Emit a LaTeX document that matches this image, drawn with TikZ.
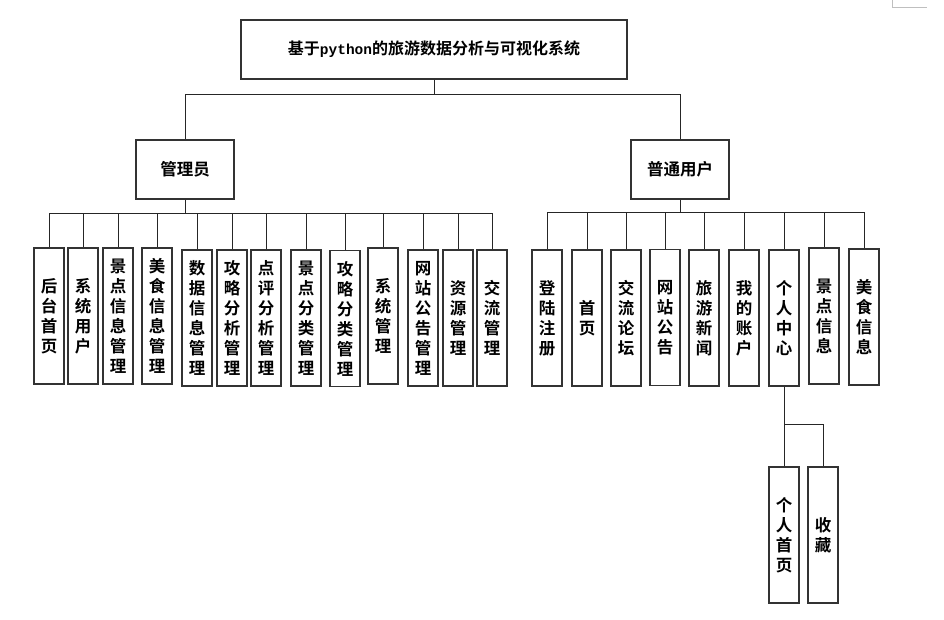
\documentclass[tikz,border=0pt]{standalone}
\usepackage{fontspec}
\usepackage{tikz}
\usetikzlibrary{positioning}
\newfontfamily\cjk{Noto Sans CJK SC Bold}
\newfontfamily\lat{Liberation Mono}
\tikzset{
    topbox/.style={
        draw=black!80,
        line width=1.1pt,
        minimum width=386pt,
        minimum height=59pt,
        inner sep=0pt,
        font=\cjk\fontsize{16}{18}\selectfont
    },
    rolebox/.style={
        draw=black!80,
        line width=1.1pt,
        minimum width=98pt,
        minimum height=59pt,
        inner sep=0pt,
        font=\cjk\fontsize{16.5}{18}\selectfont
    },
    leaf/.style={
        draw=black!80,
        line width=1.1pt,
        minimum width=30pt,
        minimum height=136pt,
        inner sep=0pt,
        align=center,
        font=\cjk\fontsize{16.5}{20}\selectfont
    },
    edge/.style={
        line width=1pt,
        black!85
    }
}
\begin{document}
\begin{tikzpicture}[x=1pt,y=-1pt]

\useasboundingbox (0,0) rectangle (944,619);

%---------------- Top ----------------

\node[topbox] (root) at (434,49.5) {基于{\lat\bfseries\fontsize{14.5}{18}\selectfont python}的旅游数据分析与可视化系统};

\node[rolebox] (admin) at (185,169.5) {管理员};
\node[rolebox] (user) at (680,169.5) {普通用户};

\coordinate (rbus) at (434,94);
\draw[edge] (root.south) -- (rbus);
\draw[edge] (rbus) -| (admin.north) (rbus) -| (user.north);

%---------------- Admin ----------------

\node[leaf] (a1) at (49,316) {后\\台\\首\\页};
\node[leaf] (a2) at (83,316) {系\\统\\用\\户};
\node[leaf] (a3) at (118,316) {景\\点\\信\\息\\管\\理};
\node[leaf] (a4) at (157,316) {美\\食\\信\\息\\管\\理};
\node[leaf] (a5) at (197,318) {数\\据\\信\\息\\管\\理};
\node[leaf] (a6) at (232,318) {攻\\略\\分\\析\\管\\理};
\node[leaf] (a7) at (266,318) {点\\评\\分\\析\\管\\理};
\node[leaf] (a8) at (306,318) {景\\点\\分\\类\\管\\理};
\node[leaf] (a9) at (345,318.5) {攻\\略\\分\\类\\管\\理};
\node[leaf] (a10) at (383,316) {系\\统\\管\\理};
\node[leaf] (a11) at (423,318) {网\\站\\公\\告\\管\\理};
\node[leaf] (a12) at (458,318) {资\\源\\管\\理};
\node[leaf] (a13) at (492,318) {交\\流\\管\\理};

\coordinate (abus) at (185,213);
\draw[edge] (admin.south) -- (abus);
\draw[edge] (abus) -| (a1.north) (abus) -| (a2.north) (abus) -| (a3.north)
    (abus) -| (a4.north) (abus) -| (a5.north) (abus) -| (a6.north)
    (abus) -| (a7.north) (abus) -| (a8.north) (abus) -| (a9.north)
    (abus) -| (a10.north) (abus) -| (a11.north) (abus) -| (a12.north)
    (abus) -| (a13.north);

%---------------- User ----------------

\node[leaf] (u1) at (547,318) {登\\陆\\注\\册};
\node[leaf] (u2) at (587,318) {首\\页};
\node[leaf] (u3) at (626,318) {交\\流\\论\\坛};
\node[leaf] (u4) at (665,317.5) {网\\站\\公\\告};
\node[leaf] (u5) at (704,318) {旅\\游\\新\\闻};
\node[leaf] (u6) at (744,318) {我\\的\\账\\户};
\node[leaf] (u7) at (784,318) {个\\人\\中\\心};
\node[leaf] (u8) at (824,316) {景\\点\\信\\息};
\node[leaf] (u9) at (864,317) {美\\食\\信\\息};

\coordinate (ubus) at (680,212);
\draw[edge] (user.south) -- (ubus);
\draw[edge] (ubus) -| (u1.north) (ubus) -| (u2.north) (ubus) -| (u3.north)
    (ubus) -| (u4.north) (ubus) -| (u5.north) (ubus) -| (u6.north)
    (ubus) -| (u7.north) (ubus) -| (u8.north) (ubus) -| (u9.north);

%---------------- Personal center ----------------

\node[leaf] (c1) at (784,535) {个\\人\\首\\页};
\node[leaf] (c2) at (823,535) {收\\藏};

\coordinate (cbus) at (784,424);
\draw[edge] (u7.south) -- (cbus);
\draw[edge] (cbus) -- (c1.north) (cbus) -| (c2.north);

% page corner mark
\draw[black!25, line width=0.8pt] (892,0) -- (892,7) -- (927,7);

\end{tikzpicture}
\end{document}
